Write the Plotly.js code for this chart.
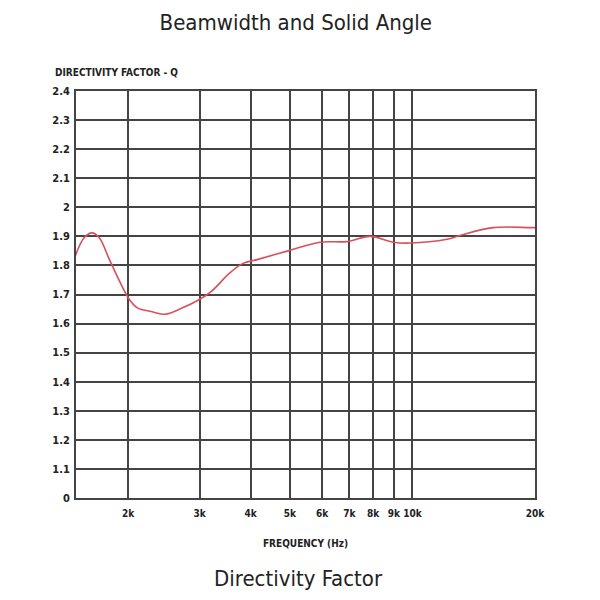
<!DOCTYPE html>
<html>
<head>
<meta charset="utf-8">
<script src="https://cdn.plot.ly/plotly-3.0.1.min.js"></script>
<style>html,body{margin:0;padding:0;background:#fff;}#chart{width:600px;height:600px;}</style>
</head>
<body>
<div id="chart"></div>
<script>
const freqHz = [1482, 1560, 1632, 1700, 1800, 1900, 2000, 2104, 2304, 2466, 2731, 2972, 3200, 3563, 3834, 4150, 4946, 5927, 6904, 7865, 8956, 9860, 12160, 13080, 15770, 19440, 20000];
const qValues = [1.83, 1.895, 1.912, 1.895, 1.82, 1.75, 1.69, 1.655, 1.64, 1.632, 1.655, 1.68, 1.71, 1.775, 1.807, 1.82, 1.85, 1.88, 1.882, 1.90, 1.88, 1.877, 1.89, 1.903, 1.93, 1.93, 1.93];
const xTickVals = [2000, 3000, 4000, 5000, 6000, 7000, 8000, 9000, 10000, 20000];
const xTickText = ["2k", "3k", "4k", "5k", "6k", "7k", "8k", "9k", "10k", "20k"];
const yTickVals = [1.0, 1.1, 1.2, 1.3, 1.4, 1.5, 1.6, 1.7, 1.8, 1.9, 2.0, 2.1, 2.2, 2.3, 2.4];
const yTickText = ["0", "1.1", "1.2", "1.3", "1.4", "1.5", "1.6", "1.7", "1.8", "1.9", "2", "2.1", "2.2", "2.3", "2.4"];

const FONT = '"DejaVu Sans Condensed", "Liberation Sans Narrow", "Roboto", sans-serif';

const trace = {
  x: freqHz, y: qValues, type: 'scatter', mode: 'lines',
  line: {color: '#d9505a', width: 1.6, shape: 'spline', smoothing: 1},
  hoverinfo: 'skip'
};

const layout = {
  width: 600, height: 600,
  margin: {l: 76, r: 65, t: 91, b: 102},
  paper_bgcolor: '#ffffff', plot_bgcolor: '#ffffff',
  showlegend: false,
  font: {family: FONT, color: '#222'},
  title: {text: 'Beamwidth and Solid Angle', font: {family: FONT, size: 22, color: '#222'}, x: 0.493, xanchor: 'center', y: 0.963, yanchor: 'middle', yref: 'container'},
  xaxis: {
    type: 'log', range: [Math.log10(1490), Math.log10(20000)],
    tickvals: xTickVals, ticktext: xTickText, tickangle: 0, ticklabelstandoff: 5,
    showgrid: true, gridcolor: '#444', gridwidth: 2,
    showline: true, linecolor: '#444', linewidth: 2, mirror: true,
    ticks: '', zeroline: false,
    tickfont: {family: FONT, size: 10, color: '#222', weight: 'bold'},
    title: {text: 'FREQUENCY (Hz)', font: {family: FONT, size: 10, color: '#222', weight: 'bold'}, standoff: 22}
  },
  yaxis: {
    range: [1.0, 2.4],
    tickvals: yTickVals, ticktext: yTickText,
    showgrid: true, gridcolor: '#444', gridwidth: 2,
    showline: true, linecolor: '#444', linewidth: 2, mirror: true,
    ticks: '', zeroline: false, ticklabelstandoff: 2,
    tickfont: {family: FONT, size: 11, color: '#222', weight: 'bold'}
  },
  annotations: [
    {text: 'DIRECTIVITY FACTOR - Q', xref: 'paper', yref: 'paper', x: -0.05, y: 1.045, xanchor: 'left', yanchor: 'middle', showarrow: false, font: {family: FONT, size: 10, color: '#222', weight: 'bold'}},
    {text: 'Directivity Factor', xref: 'paper', yref: 'paper', x: 0.485, y: -0.197, xanchor: 'center', yanchor: 'middle', showarrow: false, font: {family: FONT, size: 22, color: '#222'}}
  ]
};

Plotly.newPlot('chart', [trace], layout, {displayModeBar: false, staticPlot: true});
</script>
</body>
</html>
